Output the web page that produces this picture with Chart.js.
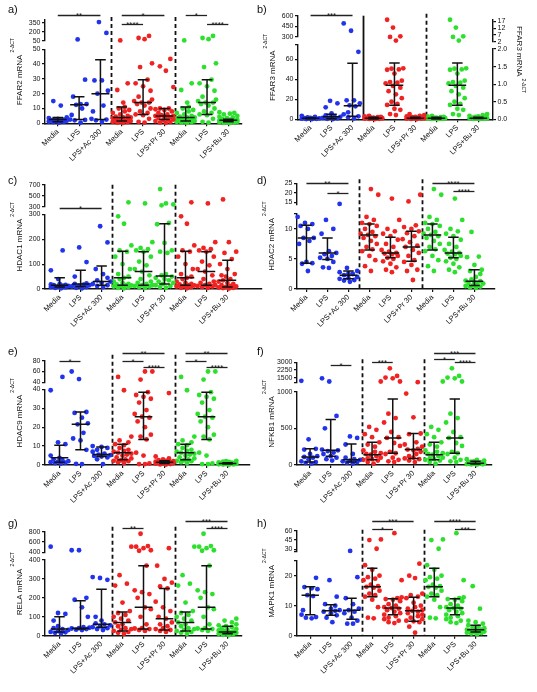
<!DOCTYPE html>
<html>
<head>
<meta charset="utf-8">
<script src="https://cdn.jsdelivr.net/npm/chart.js@4.4.1/dist/chart.umd.min.js"></script>
<style>
  body { margin: 0; width: 537px; height: 692px; background: #fff; position: relative; overflow: hidden; font-family: "Liberation Sans", Arial, sans-serif; }
  .panel { position: absolute; }
  .tag { position: absolute; font-size: 11px; color: #111; line-height: 1; }
</style>
</head>
<body>
<script>
// x categories, same on every panel
const categories = ['Media', 'LPS', 'LPS+Ac 300', 'Media', 'LPS', 'LPS+Pr 30', 'Media', 'LPS', 'LPS+Bu 30'];

// ---- a) FFAR2 ----
const ffar2MediaCtl = [0.3, 0.5, 0.8, 1, 1.2, 1.5, 1.8, 2, 2.5, 3, 3.5, 4, 4, 4.5, 5, 6, 7, 8, 9, 10, 11, 14, 22.5, 27, 55];
const ffar2LpsCtl = [0.5, 1, 3, 5.5, 6, 7, 8, 10, 12, 13, 14, 14, 15, 16, 18, 22, 25, 27, 29.5, 38, 40.5, 75, 95, 130];
const ffar2Points = [
  [0.5, 0.8, 1, 1.2, 1.5, 1.8, 2, 2.2, 2.5, 2.8, 3, 3.5, 4, 12, 15],
  [0.5, 2, 2.3, 2.5, 5.6, 10, 12.5, 13, 13, 18, 29.5, 72],
  [1, 2, 2.5, 3, 8, 12, 20, 22, 29, 29, 180, 360],
  ffar2MediaCtl, ffar2LpsCtl,
  [0.3, 0.5, 1, 1.5, 2, 2.5, 3, 3.5, 4, 4.5, 5, 5, 5.5, 6, 7, 8, 9, 9.5, 10, 10, 24.5, 35.5, 38.5, 43.5],
  ffar2MediaCtl, ffar2LpsCtl,
  [0.2, 0.3, 0.5, 0.7, 0.8, 1, 1.2, 1.4, 1.6, 1.8, 2, 2, 2.3, 2.5, 3, 3.5, 4, 4.5, 5, 6, 6.5, 7, 7.5]
];
const ffar2Median = [2.5, 12.5, 20, 4, 14, 5, 4, 14, 2];
const ffar2Q1 = [1, 2.5, 2.5, 1.5, 6, 2.5, 1.5, 6, 1];
const ffar2Q3 = [4, 18, 43, 11, 29.5, 10, 11, 29.5, 2.8];
const ffar2UpperTicks = [50, 200, 350];
const ffar2LowerTicks = [0, 10, 20, 30, 40, 50];
const ffar2Sig = [[0, 2, 0, '**'], [3, 5, 0, '*'], [3, 4, 1, '****'], [6, 7, 0, '*'], [7, 8, 1, '****']];

// ---- b) FFAR3 (blue on left axis, red/green on right axis) ----
const ffar3MediaCtl = [0.005, 0.01, 0.015, 0.02, 0.02, 0.03, 0.03, 0.04, 0.05, 0.05, 0.06, 0.07, 0.08, 0.1];
const ffar3LpsCtl = [0.12, 0.15, 0.27, 0.3, 0.41, 0.44, 0.5, 0.6, 0.71, 0.8, 0.9, 0.95, 1.02, 1.04, 1.06, 1.1, 1.3, 1.41, 1.42, 1.44, 1.45, 2.8, 5.5, 6, 12.4, 18.2];
const ffar3Points = [
  [0.2, 0.3, 0.5, 0.6, 0.8, 1, 1, 1.2, 1.5, 2, 2.5, 3.5],
  [0.3, 0.5, 1, 1.5, 2, 2.5, 3, 4, 6, 12, 16, 18.5],
  [1, 2, 3, 5, 7, 13, 14, 16, 19, 19, 67.5, 385, 490],
  ffar3MediaCtl, ffar3LpsCtl,
  [0.005, 0.01, 0.02, 0.02, 0.03, 0.03, 0.04, 0.05, 0.05, 0.06, 0.07, 0.08, 0.1, 0.12, 0.15],
  ffar3MediaCtl, ffar3LpsCtl,
  [0.005, 0.01, 0.015, 0.02, 0.03, 0.03, 0.04, 0.05, 0.06, 0.07, 0.08, 0.1, 0.12, 0.15]
];
const ffar3Median = [1, 2.5, 13.5, 0.03, 0.97, 0.03, 0.03, 0.97, 0.03];
const ffar3Q1 = [0.5, 0.5, 3, 0.01, 0.4, 0.02, 0.01, 0.4, 0.02];
const ffar3Q3 = [1.5, 5, 56, 0.06, 1.6, 0.06, 0.06, 1.6, 0.06];
const ffar3UpperTicks = [300, 450, 600];
const ffar3LowerTicks = [0, 20, 40, 60, 75];
const ffar3LowerLabels = ['0', '20', '40', '60', ''];
const ffar3RightUpperTicks = [2, 7, 12, 17];
const ffar3RightLowerTicks = [0, 0.5, 1, 1.5, 2];
const ffar3RightLowerLabels = ['0.0', '0.5', '1.0', '1.5', '2.0'];
const ffar3Sig = [[0, 2, 0, '***']];

// ---- c) HDAC1 ----
const hdac1MediaCtl = [3, 5, 8, 10, 12, 14, 15, 18, 20, 25, 30, 40, 45, 50, 60, 80, 100, 130, 150, 155, 175, 262, 292, 380];
const hdac1LpsCtl = [5, 8, 10, 12, 15, 15, 20, 25, 30, 40, 55, 70, 80, 95, 110, 130, 150, 155, 160, 165, 188, 360];
const hdac1Points = [
  [3, 5, 7, 8, 10, 12, 13, 15, 16, 18, 20, 40, 75, 155],
  [3, 5, 8, 10, 12, 15, 17, 20, 22, 50, 108, 167],
  [8, 12, 15, 20, 25, 30, 35, 45, 60, 80, 187, 252],
  hdac1MediaCtl, hdac1LpsCtl,
  [5, 8, 12, 15, 20, 25, 30, 35, 40, 45, 50, 55, 60, 145, 150, 155, 185, 260, 265, 325, 342, 360, 620],
  hdac1MediaCtl, hdac1LpsCtl,
  [2, 4, 5, 6, 8, 10, 12, 15, 20, 25, 30, 35, 40, 50, 55, 60, 80, 100, 120, 145, 150, 188, 433]
];
const hdac1Median = [15, 20, 30, 45, 70, 52, 45, 70, 35];
const hdac1Q1 = [8, 10, 15, 15, 15, 20, 15, 15, 8];
const hdac1Q3 = [45, 75, 92, 152, 150, 262, 152, 150, 115];
const hdac1UpperTicks = [300, 500, 700];
const hdac1LowerTicks = [0, 100, 200, 300];
const hdac1Sig = [[0, 2, 0, '*']];

// ---- d) HDAC2 ----
const hdac2MediaCtl = [3, 3.8, 4.8, 5.5, 6.3, 6.6, 7, 7.5, 8, 8.5, 8.8, 9, 9.2, 9.5, 10, 10.5, 10.8, 11, 11.5, 12, 19, 22];
const hdac2LpsCtl = [2.8, 3.2, 3.6, 4.2, 4.6, 5, 5.2, 5.5, 5.8, 5.9, 6, 6.2, 6.5, 7, 7.5, 8.2, 8.8, 9.2, 9.6, 10, 11.5, 17];
const hdac2Points = [
  [3, 4.2, 4.3, 4.5, 7.5, 8, 8.5, 8.5, 10, 10.5, 10.8, 11, 12],
  [3.5, 3.6, 4.5, 5, 5.2, 5.5, 5.8, 6, 6.3, 9.2, 10, 11.5],
  [1.2, 1.4, 1.5, 1.7, 1.8, 2, 2.3, 2.5, 2.6, 2.8, 3, 3.5, 14.2],
  hdac2MediaCtl, hdac2LpsCtl,
  [1.5, 3, 3.2, 4, 4.5, 4.8, 5.5, 6, 6.5, 7, 7.2, 7.8, 8.3, 8.8, 9.3, 9.6, 10, 10.3, 10.6, 15.5, 19],
  hdac2MediaCtl, hdac2LpsCtl,
  [0.2, 0.3, 0.4, 0.5, 0.6, 0.8, 0.9, 1, 1.1, 1.3, 1.4, 1.6, 2, 2.5, 3, 3.2, 4, 5.3, 5.4, 9.5]
];
const hdac2Median = [8.5, 6, 2.3, 9, 6, 7, 9, 6, 1.3];
const hdac2Q1 = [4.3, 4.9, 1.7, 6.5, 5.2, 4.6, 6.5, 5.2, 0.6];
const hdac2Q3 = [10.6, 8.5, 3, 10.8, 8.6, 9.6, 10.8, 8.6, 3.2];
const hdac2UpperTicks = [15, 20, 25];
const hdac2LowerTicks = [0, 5, 10, 12.6];
const hdac2LowerLabels = ['0', '5', '10', ''];
const hdac2Sig = [[0, 2, 0, '**'], [1, 2, 1, '*'], [6, 8, 0, '****'], [7, 8, 2, '****']];

// ---- e) HDAC9 ----
const hdac9MediaCtl = [1, 1.5, 2, 2.2, 2.5, 3, 3.5, 4, 5, 5.5, 6, 6.5, 7, 7.5, 8, 9, 10.5, 11, 12, 13, 15, 39.5, 50];
const hdac9LpsCtl = [0.5, 0.5, 0.8, 5, 6.5, 13.5, 15, 16, 20, 23, 25, 25.5, 27, 29, 33, 35, 36, 37, 38.5, 45, 60, 60];
const hdac9Points = [
  [0.8, 1, 1.2, 1.5, 1.8, 2, 2.5, 3, 3.8, 5, 11, 12, 39.5, 50],
  [0.5, 0.6, 8, 13, 14, 17, 21.5, 22, 25, 27.5, 28, 46, 60],
  [0.5, 3, 4, 4.5, 4.8, 5.2, 5.5, 6, 7, 8, 9, 9.5, 10],
  hdac9MediaCtl, hdac9LpsCtl,
  [0.2, 0.3, 0.5, 0.7, 0.8, 1, 1.1, 1.2, 1.4, 1.5, 1.6, 1.8, 2, 2.2, 2.5, 3, 3.5, 4.5, 38],
  hdac9MediaCtl, hdac9LpsCtl,
  [0.1, 0.2, 0.3, 0.4, 0.5, 0.6, 0.7, 0.8, 0.9, 1, 1, 1.2, 1.4, 1.6, 1.8, 2, 2.2]
];
const hdac9Median = [3.8, 21.5, 5.5, 6.5, 25.5, 1.5, 6.5, 25.5, 0.8];
const hdac9Q1 = [1.5, 8, 4.5, 2.8, 13.5, 0.8, 2.8, 13.5, 0.5];
const hdac9Q3 = [10.5, 28, 9.5, 11, 38.5, 2.3, 11, 38.5, 1.2];
const hdac9UpperTicks = [40, 60, 80];
const hdac9LowerTicks = [0, 10, 20, 30, 40];
const hdac9Sig = [[0, 1, 1, '*'], [3, 5, 0, '**'], [3, 4, 1, '*'], [4, 5, 2, '****'], [6, 8, 0, '**'], [6, 7, 1, '*'], [7, 8, 2, '****']];

// ---- f) NFKB1 ----
const nfkb1MediaCtl = [20, 40, 60, 70, 80, 90, 100, 120, 140, 150, 160, 180, 200, 250, 280, 310, 380, 420, 480, 520, 1120];
const nfkb1LpsCtl = [40, 50, 70, 100, 150, 160, 180, 260, 300, 370, 380, 450, 580, 640, 700, 1120, 1430, 1500, 1660, 2410];
const nfkb1Points = [
  [20, 30, 40, 50, 80, 100, 110, 120, 150, 210, 220, 350, 1180],
  [60, 80, 100, 120, 150, 170, 190, 200, 210, 500, 670, 1120, 1430],
  [20, 30, 40, 50, 60, 70, 80, 100, 150, 280, 370, 390],
  nfkb1MediaCtl, nfkb1LpsCtl,
  [40, 60, 80, 90, 100, 120, 150, 180, 200, 210, 220, 250, 280, 310, 420, 430, 650, 975, 1050],
  nfkb1MediaCtl, nfkb1LpsCtl,
  [5, 8, 10, 12, 15, 18, 20, 22, 25, 28, 30, 35, 40, 45, 50, 60, 70, 80]
];
const nfkb1Median = [110, 200, 70, 140, 370, 210, 140, 370, 25];
const nfkb1Q1 = [40, 120, 40, 70, 160, 90, 70, 160, 12];
const nfkb1Q3 = [220, 620, 285, 310, 900, 430, 310, 900, 50];
const nfkb1UpperTicks = [1000, 1500, 2250, 3000];
const nfkb1UpperLabels = ['', '1500', '2250', '3000'];
const nfkb1LowerTicks = [0, 500, 1000];
const nfkb1Sig = [[1, 2, 3, '*'], [3, 4, 2, '***'], [6, 8, 0, '***'], [6, 7, 1, '*'], [7, 8, 2, '****']];

// ---- g) RELA ----
const relaMediaCtl = [10, 15, 20, 25, 30, 35, 40, 50, 60, 70, 80, 90, 100, 110, 120, 130, 175, 265, 275, 320, 510];
const relaLpsCtl = [25, 30, 35, 38, 40, 60, 100, 140, 150, 200, 220, 230, 240, 370, 430, 440, 480, 510, 520, 760];
const relaPoints = [
  [12, 15, 18, 20, 25, 30, 35, 40, 50, 80, 115, 120, 510],
  [30, 32, 35, 38, 40, 42, 45, 100, 150, 190, 200, 440, 440],
  [30, 35, 40, 45, 50, 55, 60, 65, 80, 100, 295, 305, 310],
  relaMediaCtl, relaLpsCtl,
  [20, 25, 30, 35, 40, 50, 60, 70, 90, 100, 130, 150, 180, 250, 260, 280, 300, 370, 480],
  relaMediaCtl, relaLpsCtl,
  [3, 5, 8, 10, 12, 15, 18, 20, 22, 25, 28, 30, 35, 40, 45, 50, 55, 60, 70, 80, 90]
];
const relaMedian = [35, 40, 60, 70, 150, 90, 70, 150, 20];
const relaQ1 = [20, 35, 45, 25, 35, 30, 25, 35, 10];
const relaQ3 = [100, 185, 245, 125, 370, 250, 125, 370, 50];
const relaUpperTicks = [400, 600, 800];
const relaLowerTicks = [0, 100, 200, 300, 400];
const relaSig = [[3, 4, 1, '**'], [6, 8, 0, '***'], [7, 8, 1, '****']];

// ---- h) MAPK1 ----
const mapk1MediaCtl = [5.8, 6, 9.5, 12, 13, 13.5, 14, 15, 16, 16.3, 16.5, 17, 18.5, 19, 19.5, 20, 22, 23.5, 31, 45, 46];
const mapk1LpsCtl = [4.2, 4.5, 5, 5.5, 6, 6.5, 7, 7.5, 8, 8.5, 9, 9.2, 9.5, 10, 10.5, 11.5, 12, 12.2, 12.5, 12.8, 18.5, 56];
const mapk1Points = [
  [5.8, 6, 6.2, 7, 8.5, 13.2, 13.5, 15.5, 15.8, 16.2, 19.3],
  [4.5, 6, 6.8, 7.5, 8, 8.3, 8.5, 9, 10, 10.5, 13, 18.5],
  [4, 4, 5, 6, 7.5, 8, 8.5, 9, 10.5, 12.5, 19.5, 27.5],
  mapk1MediaCtl, mapk1LpsCtl,
  [1, 3, 4.5, 4.8, 5, 5.5, 6, 6.5, 7, 7.5, 8, 8.3, 8.5, 9, 9.5, 10, 11, 12.5, 13, 13.5, 14, 19.2, 20, 24],
  mapk1MediaCtl, mapk1LpsCtl,
  [0.5, 0.7, 0.9, 1, 1.2, 1.4, 1.5, 1.8, 2, 2, 2.2, 2.5, 2.8, 3, 3.5, 4, 4.5, 5, 9, 16.5]
];
const mapk1Median = [13.5, 8.3, 8.5, 16.3, 9.2, 8.3, 16.3, 9.2, 2];
const mapk1Q1 = [7, 6.8, 5.5, 13, 7, 4.8, 13, 7, 1.2];
const mapk1Q3 = [16.3, 10.3, 12.5, 22.5, 12.3, 12.8, 22.5, 12.3, 3.5];
const mapk1UpperTicks = [26.3, 30, 45, 60];
const mapk1UpperLabels = ['', '30', '45', '60'];
const mapk1LowerTicks = [0, 10, 20, 25];
const mapk1LowerLabels = ['0', '10', '20', ''];
const mapk1Sig = [[3, 5, 0, '***'], [3, 4, 1, '*'], [6, 8, 0, '****'], [7, 8, 1, '***']];

// ---- styling / layout ----
const BLUE = '#2233ee', RED = '#f02222', GREEN = '#2ee02e';
const INK = '#111';
const FONT = '"Liberation Sans", Arial, sans-serif';
const BRG = [BLUE, BLUE, BLUE, RED, RED, RED, GREEN, GREEN, GREEN];
const BGR = [BLUE, BLUE, BLUE, GREEN, GREEN, GREEN, RED, RED, RED];
const Y_W = 24, X_H = 45;
Chart.defaults.font.family = FONT;
Chart.defaults.color = INK;

// segs = [pad above, upper segment, gap, lower segment] in relative heights
const panels = [
  {tag: 'a)', box: [0, 0, 266, 172], area: [45, 242, 20, 123.3], x: [-0.6, 8.64], colors: BRG, title: 'FFAR2 mRNA',
   L: {segs: [0, 20.7, 8.6, 74], upper: [50, 395], lower: [0, 50], uT: ffar2UpperTicks, lT: ffar2LowerTicks},
   points: ffar2Points, med: ffar2Median, q1: ffar2Q1, q3: ffar2Q3, sig: ffar2Sig, sigY: [-5, 4],
   seps: [[2.5, false], [5.5, false]], sepTop: -3},
  {tag: 'b)', box: [256, 0, 281, 172], area: [298, 493, 15.7, 119.3], x: [-0.6, 8.7], colors: BRG, title: 'FFAR3 mRNA',
   L: {segs: [0, 21, 7.6, 75], upper: [300, 600], lower: [0, 75], uT: ffar3UpperTicks, lT: ffar3LowerTicks, lL: ffar3LowerLabels},
   R: {segs: [4.3, 21.7, 7.3, 70.3], upper: [2, 18], lower: [0, 2], uT: ffar3RightUpperTicks, lT: ffar3RightLowerTicks, lL: ffar3RightLowerLabels},
   rightFrom: 3,
   points: ffar3Points, med: ffar3Median, q1: ffar3Q1, q3: ffar3Q3, sig: ffar3Sig, sigY: [-1],
   seps: [[2.5, true], [5.5, false]], sepTop: -2},
  {tag: 'c)', box: [0, 172, 266, 172], area: [45, 265, 184.7, 289], x: [-0.7, 9.65], colors: BGR, title: 'HDAC1 mRNA',
   L: {segs: [0, 22, 7.6, 74.7], upper: [300, 700], lower: [0, 300], uT: hdac1UpperTicks, lT: hdac1LowerTicks},
   points: hdac1Points, med: hdac1Median, q1: hdac1Q1, q3: hdac1Q3, sig: hdac1Sig, sigY: [23],
   seps: [[2.5, false], [5.5, false]], sepTop: 0},
  {tag: 'd)', box: [256, 172, 281, 172], area: [297, 495, 183.3, 289], x: [-0.45, 8.98], colors: BRG, title: 'HDAC2 mRNA',
   L: {segs: [0, 21, 9, 75.7], upper: [14, 25], lower: [0, 12.6], uT: hdac2UpperTicks, lT: hdac2LowerTicks, lL: hdac2LowerLabels},
   points: hdac2Points, med: hdac2Median, q1: hdac2Q1, q3: hdac2Q3, sig: hdac2Sig, sigY: [0, 10, 8],
   seps: [[2.5, false], [5.5, false]], sepTop: -4},
  {tag: 'e)', box: [0, 344, 266, 172], area: [45, 250, 360.7, 465], x: [-0.69, 9.07], colors: BRG, title: 'HDAC9 mRNA',
   L: {segs: [0, 21.6, 7, 75.7], upper: [40, 80], lower: [0, 40], uT: hdac9UpperTicks, lT: hdac9LowerTicks},
   points: hdac9Points, med: hdac9Median, q1: hdac9Q1, q3: hdac9Q3, sig: hdac9Sig, sigY: [-8, 0, 6],
   seps: [[2.5, false], [5.5, false]], sepTop: -6},
  {tag: 'f)', box: [256, 344, 281, 172], area: [297, 492, 362.3, 465], x: [-0.63, 8.8], colors: BRG, title: 'NFKB1 mRNA',
   L: {segs: [0, 20.4, 9, 73.3], upper: [1000, 3000], lower: [0, 1000], uT: nfkb1UpperTicks, uL: nfkb1UpperLabels, lT: nfkb1LowerTicks},
   points: nfkb1Points, med: nfkb1Median, q1: nfkb1Q1, q3: nfkb1Q3, sig: nfkb1Sig, sigY: [-9, -3, 0, 3],
   seps: [[2.5, false], [5.5, false]], sepTop: -3},
  {tag: 'g)', box: [0, 516, 266, 176], area: [45, 242, 531.7, 635.7], x: [-0.69, 8.69], colors: BRG, title: 'RELA mRNA',
   L: {segs: [0, 20.6, 7.7, 75.7], upper: [400, 800], lower: [0, 400], uT: relaUpperTicks, lT: relaLowerTicks},
   points: relaPoints, med: relaMedian, q1: relaQ1, q3: relaQ3, sig: relaSig, sigY: [-11, -4],
   seps: [[2.5, false], [5.5, false]], sepTop: -5},
  {tag: 'h)', box: [256, 516, 281, 176], area: [297, 487, 530.7, 635.7], x: [-0.64, 8.55], colors: BRG, title: 'MAPK1 mRNA',
   L: {segs: [0, 21, 9, 75], upper: [26.3, 60], lower: [0, 25], uT: mapk1UpperTicks, uL: mapk1UpperLabels, lT: mapk1LowerTicks, lL: mapk1LowerLabels},
   points: mapk1Points, med: mapk1Median, q1: mapk1Q1, q3: mapk1Q3, sig: mapk1Sig, sigY: [-10, -2],
   seps: [[2.5, false], [5.5, false]], sepTop: -1}
];
const tagPos = [[8, 4], [257, 4], [8, 175], [257, 175], [8, 346], [257, 346], [8, 518], [257, 518]];

// rough pixel position of a value, used only to spread the dots sideways
function estPix(p, side, v) {
  const [pad, uh, gh, lh] = side.segs;
  const k = (p.area[3] - p.area[2]) / (pad + uh + gh + lh);
  const lowBot = p.area[3], lowTop = lowBot - lh * k;
  const upBot = lowTop - gh * k, upTop = upBot - uh * k;
  if (v > side.lower[1]) return upBot - (v - side.upper[0]) / (side.upper[1] - side.upper[0]) * (upBot - upTop);
  return lowBot - (v - side.lower[0]) / (side.lower[1] - side.lower[0]) * (lowBot - lowTop);
}

// simple beeswarm: deterministic sideways offsets so dots don't pile up
function swarm(vals, pxOf, pxPerCat, maxOff) {
  const placed = [], out = [];
  vals.forEach((v, k) => {
    const py = pxOf(v);
    const base = (((k + 1) * 0.6180339887) % 1) * 2 - 1;
    const cands = [];
    for (let j = -6; j <= 6; j++) cands.push(j / 6);
    cands.sort((a, b) => Math.abs(a - base) - Math.abs(b - base));
    let best = cands[0], bestD = -1;
    for (const c of cands) {
      const px = c * maxOff * pxPerCat;
      let d = Infinity;
      for (const q of placed) d = Math.min(d, Math.hypot(q[0] - px, q[1] - py));
      if (d >= 4.4) { best = c; break; }
      if (d > bestD) { bestD = d; best = c; }
    }
    placed.push([best * maxOff * pxPerCat, py]);
    out.push(best * maxOff);
  });
  return out;
}

function yAxis(stack, pos, weight, sw, range, ticks, labels) {
  return {
    axis: 'y', type: 'linear', position: pos, stack: stack, stackWeight: sw, weight: weight,
    min: range[0], max: range[1], bounds: 'data',
    grid: {display: true, drawOnChartArea: false, drawTicks: true, tickLength: 3, color: INK, lineWidth: 1.2},
    border: {display: true, color: INK, width: 1.4},
    ticks: {font: {size: 7}, color: INK, padding: 1.5, autoSkip: false,
      callback: (v, i) => labels ? labels[i] : String(v)},
    afterBuildTicks: s => { s.ticks = ticks.map(v => ({value: v})); },
    afterFit: s => { s.width = Y_W; }
  };
}
function spacer(stack, pos, weight, sw) {
  return {axis: 'y', type: 'linear', position: pos, stack: stack, stackWeight: sw, weight: weight, display: false, min: 0, max: 1};
}
function xAxis(p) {
  return {
    type: 'linear', position: 'bottom', min: p.x[0], max: p.x[1], bounds: 'data',
    grid: {display: true, drawOnChartArea: false, drawTicks: true, tickLength: 3, color: INK, lineWidth: 1.2},
    border: {display: true, color: INK, width: 1.6},
    ticks: {font: {size: 7.5}, color: INK, minRotation: 45, maxRotation: 45, padding: 1, autoSkip: false,
      callback: (v, i) => categories[i]},
    afterBuildTicks: s => { s.ticks = categories.map((c, i) => ({value: i})); },
    afterFit: s => { s.height = X_H; }
  };
}

function drawTitle(ctx, x, cy, rot, supShift) {
  return (text) => {
    ctx.save();
    ctx.translate(x, cy);
    ctx.rotate(rot);
    ctx.font = '8px ' + FONT;
    const w1 = ctx.measureText(text).width;
    ctx.font = '5px ' + FONT;
    const w2 = ctx.measureText('2-ΔCT').width;
    const start = -(w1 + 2 + w2) / 2;
    ctx.fillStyle = INK;
    ctx.textAlign = 'left';
    ctx.textBaseline = 'alphabetic';
    ctx.font = '8px ' + FONT;
    ctx.fillText(text, start, 0);
    ctx.font = '5px ' + FONT;
    ctx.fillText('2-ΔCT', start + w1 + 2, -supShift);
    ctx.restore();
  };
}

function makePanel(p, n) {
  const [bx, by, bw, bh] = p.box;
  const [al, ar, at, ab] = p.area;
  const holder = document.createElement('div');
  holder.className = 'panel';
  holder.style.cssText = `left:${bx}px;top:${by}px;width:${bw}px;height:${bh}px`;
  const cv = document.createElement('canvas');
  cv.width = bw; cv.height = bh;
  cv.style.width = bw + 'px'; cv.style.height = bh + 'px';
  holder.appendChild(cv);
  document.body.appendChild(holder);

  const tag = document.createElement('div');
  tag.className = 'tag';
  tag.textContent = p.tag;
  tag.style.left = tagPos[n][0] + 'px';
  tag.style.top = tagPos[n][1] + 'px';
  document.body.appendChild(tag);

  const pxPerCat = (ar - al) / (p.x[1] - p.x[0]);
  const datasets = [];
  const bars = {L: [], R: []};
  p.points.forEach((vals, i) => {
    const key = p.R && i >= p.rightFrom ? 'R' : 'L';
    const side = p[key];
    const sorted = vals.slice().sort((a, b) => a - b);
    const offs = swarm(sorted, v => estPix(p, side, v), pxPerCat, 0.42);
    const lo = [], up = [];
    sorted.forEach((v, k) => (v > side.lower[1] ? up : lo).push({x: i + offs[k], y: v}));
    const style = {pointRadius: 2.4, pointBackgroundColor: p.colors[i], pointBorderWidth: 0, clip: false, order: 1};
    if (lo.length) datasets.push(Object.assign({data: lo, yAxisID: key === 'L' ? 'yL' : 'rL'}, style));
    if (up.length) datasets.push(Object.assign({data: up, yAxisID: key === 'L' ? 'yU' : 'rU'}, style));
    const m = p.med[i], a = p.q1[i], b = p.q3[i];
    bars[key].push(
      {x: i - 0.42, y: m}, {x: i + 0.42, y: m}, {x: i, y: null},
      {x: i, y: a}, {x: i, y: b}, {x: i, y: null},
      {x: i - 0.25, y: a}, {x: i + 0.25, y: a}, {x: i, y: null},
      {x: i - 0.25, y: b}, {x: i + 0.25, y: b}, {x: i, y: null});
  });
  for (const key of ['L', 'R']) {
    if (!bars[key].length) continue;
    datasets.push({data: bars[key], yAxisID: key === 'L' ? 'yL' : 'rL', showLine: true, spanGaps: false,
      borderColor: INK, borderWidth: 1.5, pointRadius: 0, clip: false, order: 0});
  }

  const scales = {x: xAxis(p)};
  const L = p.L;
  if (L.segs[0] > 0) scales.yP = spacer('L', 'left', 4, L.segs[0]);
  scales.yU = yAxis('L', 'left', 3, L.segs[1], L.upper, L.uT, L.uL);
  scales.yG = spacer('L', 'left', 2, L.segs[2]);
  scales.yL = yAxis('L', 'left', 1, L.segs[3], L.lower, L.lT, L.lL);
  if (p.R) {
    const R = p.R;
    if (R.segs[0] > 0) scales.rP = spacer('R', 'right', 1, R.segs[0]);
    scales.rU = yAxis('R', 'right', 2, R.segs[1], R.upper, R.uT, R.uL);
    scales.rG = spacer('R', 'right', 3, R.segs[2]);
    scales.rL = yAxis('R', 'right', 4, R.segs[3], R.lower, R.lT, R.lL);
  }

  const overlay = {
    id: 'overlay',
    beforeDatasetsDraw(chart) {
      const ctx = chart.ctx, xs = chart.scales.x, area = chart.chartArea;
      ctx.save();
      ctx.strokeStyle = INK;
      ctx.lineWidth = 1.8;
      for (const [pos, solid] of p.seps) {
        const x = Math.round(xs.getPixelForValue(pos)) + 0.5;
        ctx.setLineDash(solid ? [] : [4, 3]);
        ctx.beginPath();
        ctx.moveTo(x, area.top + (solid ? 0 : p.sepTop));
        ctx.lineTo(x, area.bottom);
        ctx.stroke();
      }
      ctx.restore();
    },
    afterDraw(chart) {
      const ctx = chart.ctx, xs = chart.scales.x, area = chart.chartArea;
      ctx.save();
      ctx.strokeStyle = '#222';
      ctx.fillStyle = '#222';
      ctx.lineWidth = 1.3;
      ctx.font = '8px ' + FONT;
      ctx.textAlign = 'center';
      ctx.textBaseline = 'alphabetic';
      for (const [a, b, lvl, txt] of p.sig) {
        const y = Math.round(area.top + p.sigY[lvl]) + 0.5;
        const x1 = xs.getPixelForValue(a), x2 = xs.getPixelForValue(b);
        ctx.beginPath();
        ctx.moveTo(x1, y);
        ctx.lineTo(x2, y);
        ctx.stroke();
        ctx.fillText(txt, (x1 + x2) / 2, y + 2.5);
      }
      ctx.restore();
      const cy = (area.top + area.bottom) / 2;
      drawTitle(ctx, area.left - 23, cy, -Math.PI / 2, 8)(p.title);
      if (p.R) drawTitle(ctx, area.right + 24, cy - 8, Math.PI / 2, 5)(p.title);
    }
  };

  new Chart(cv, {
    type: 'scatter',
    data: {datasets: datasets},
    options: {
      responsive: false, maintainAspectRatio: false, animation: false, events: [], devicePixelRatio: 1,
      layout: {padding: {left: al - bx - Y_W, right: bx + bw - ar - (p.R ? Y_W : 0), top: at - by, bottom: by + bh - ab - X_H}},
      plugins: {legend: {display: false}, tooltip: {enabled: false}},
      scales: scales
    },
    plugins: [overlay]
  });
}

panels.forEach(makePanel);
</script>
</body>
</html>
